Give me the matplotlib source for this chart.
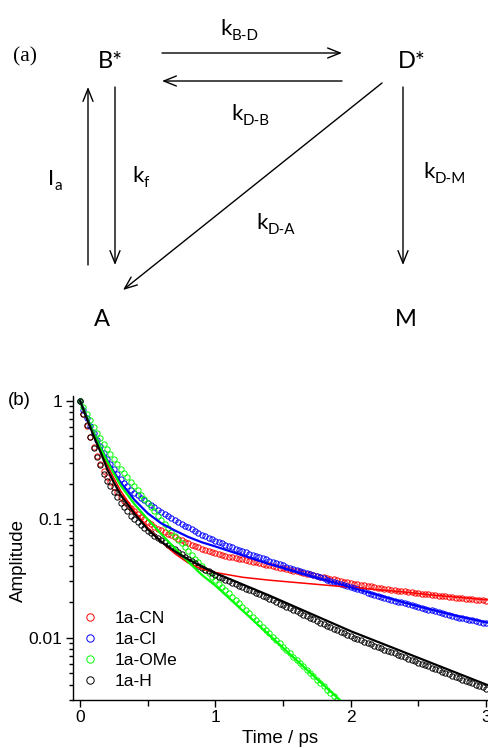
'''
kinetic scheme (a) and decay traces with fits (b)
'''
import numpy as np
import matplotlib
matplotlib.use('Agg')
import matplotlib.pyplot as plt
from matplotlib.ticker import MultipleLocator, FixedLocator, FixedFormatter, LogLocator, NullFormatter

# data ----------------------------------------------------
# sampling of the transients (ps)
time_step = 0.025
n_points = 121

# log10 of amplitude
log_amp_cn = [
    0, -0.11, -0.215, -0.31, -0.395, -0.47, -0.535, -0.592, -0.645, -0.69,
    -0.732, -0.772, -0.81, -0.843, -0.874, -0.903, -0.93, -0.955, -0.979, -1.002,
    -1.025, -1.044, -1.062, -1.079, -1.095, -1.109, -1.123, -1.137, -1.15, -1.164,
    -1.178, -1.191, -1.205, -1.216, -1.228, -1.239, -1.25, -1.259, -1.268, -1.276,
    -1.285, -1.293, -1.3, -1.308, -1.315, -1.321, -1.328, -1.334, -1.34, -1.346,
    -1.353, -1.359, -1.365, -1.371, -1.378, -1.384, -1.39, -1.396, -1.403, -1.409,
    -1.415, -1.421, -1.428, -1.434, -1.44, -1.446, -1.453, -1.459, -1.465, -1.471,
    -1.478, -1.484, -1.49, -1.496, -1.503, -1.509, -1.515, -1.521, -1.528, -1.534,
    -1.54, -1.545, -1.55, -1.554, -1.559, -1.564, -1.568, -1.573, -1.577, -1.581,
    -1.586, -1.59, -1.594, -1.598, -1.602, -1.606, -1.61, -1.614, -1.617, -1.621,
    -1.625, -1.628, -1.632, -1.635, -1.639, -1.642, -1.646, -1.649, -1.652, -1.655,
    -1.659, -1.662, -1.665, -1.668, -1.671, -1.674, -1.677, -1.68, -1.682, -1.685,
    -1.688,
]
log_amp_cl = [
    0, -0.075, -0.145, -0.21, -0.27, -0.33, -0.385, -0.44, -0.49, -0.535,
    -0.578, -0.62, -0.66, -0.692, -0.722, -0.75, -0.775, -0.797, -0.818, -0.839,
    -0.86, -0.88, -0.9, -0.92, -0.94, -0.956, -0.973, -0.989, -1.005, -1.021,
    -1.038, -1.054, -1.07, -1.085, -1.1, -1.115, -1.13, -1.143, -1.155, -1.168,
    -1.18, -1.191, -1.203, -1.214, -1.225, -1.236, -1.248, -1.259, -1.27, -1.28,
    -1.29, -1.3, -1.31, -1.32, -1.33, -1.34, -1.35, -1.36, -1.37, -1.38,
    -1.39, -1.4, -1.41, -1.42, -1.43, -1.439, -1.448, -1.456, -1.465, -1.474,
    -1.483, -1.491, -1.5, -1.51, -1.52, -1.53, -1.54, -1.549, -1.558, -1.566,
    -1.575, -1.584, -1.593, -1.601, -1.61, -1.619, -1.628, -1.636, -1.645, -1.654,
    -1.663, -1.671, -1.68, -1.688, -1.695, -1.703, -1.71, -1.718, -1.725, -1.733,
    -1.74, -1.748, -1.755, -1.763, -1.77, -1.778, -1.785, -1.793, -1.8, -1.808,
    -1.815, -1.823, -1.83, -1.836, -1.843, -1.849, -1.855, -1.861, -1.868, -1.874,
    -1.88,
]
log_amp_ome = [
    0, -0.057, -0.113, -0.167, -0.22, -0.269, -0.317, -0.364, -0.41, -0.452,
    -0.494, -0.535, -0.575, -0.612, -0.648, -0.684, -0.72, -0.756, -0.793, -0.829,
    -0.865, -0.9, -0.935, -0.97, -1.005, -1.039, -1.073, -1.106, -1.14, -1.173,
    -1.205, -1.238, -1.27, -1.301, -1.333, -1.364, -1.395, -1.425, -1.455, -1.485,
    -1.515, -1.543, -1.571, -1.599, -1.627, -1.655, -1.683, -1.711, -1.739, -1.767,
    -1.795, -1.823, -1.851, -1.879, -1.907, -1.935, -1.963, -1.991, -2.019, -2.047,
    -2.075, -2.103, -2.131, -2.159, -2.187, -2.215, -2.243, -2.271, -2.299, -2.327,
    -2.355, -2.383, -2.411, -2.439, -2.467, -2.495, -2.523,
]
log_amp_h = [
    0, -0.11, -0.205, -0.31, -0.4, -0.475, -0.545, -0.615, -0.675, -0.72,
    -0.77, -0.815, -0.86, -0.9, -0.935, -0.97, -1.0, -1.027, -1.052, -1.077,
    -1.1, -1.12, -1.138, -1.157, -1.175, -1.195, -1.215, -1.235, -1.255, -1.275,
    -1.295, -1.315, -1.335, -1.354, -1.372, -1.391, -1.41, -1.425, -1.44, -1.455,
    -1.47, -1.484, -1.498, -1.511, -1.525, -1.537, -1.55, -1.562, -1.575, -1.586,
    -1.598, -1.609, -1.62, -1.633, -1.646, -1.66, -1.673, -1.686, -1.699, -1.713,
    -1.726, -1.739, -1.752, -1.766, -1.779, -1.792, -1.805, -1.819, -1.832, -1.845,
    -1.858, -1.872, -1.885, -1.898, -1.911, -1.925, -1.938, -1.951, -1.964, -1.977,
    -1.99, -2.001, -2.012, -2.023, -2.034, -2.045, -2.056, -2.067, -2.078, -2.089,
    -2.1, -2.111, -2.122, -2.133, -2.144, -2.155, -2.166, -2.177, -2.188, -2.199,
    -2.21, -2.221, -2.232, -2.243, -2.254, -2.265, -2.276, -2.287, -2.298, -2.309,
    -2.32, -2.331, -2.342, -2.353, -2.364, -2.375, -2.386, -2.397, -2.408, -2.419,
    -2.43,
]

# fitted curves (log10 amplitude)
fit_time = [0, 0.05, 0.1, 0.15, 0.2, 0.25, 0.3, 0.4, 0.5, 0.6, 0.7, 0.8, 0.9,
            1.0, 1.2, 1.4, 1.6, 1.8, 2.0, 2.2, 2.4, 2.6, 2.8, 3.0, 3.05]
fit_cn = [0, -0.15, -0.29, -0.42, -0.54, -0.655, -0.76, -0.93, -1.07, -1.19, -1.29,
          -1.37, -1.42, -1.45, -1.49, -1.515, -1.535, -1.555, -1.575, -1.595,
          -1.615, -1.64, -1.66, -1.68, -1.685]
fit_cl = [0, -0.14, -0.27, -0.39, -0.5, -0.6, -0.69, -0.835, -0.95, -1.035, -1.095,
          -1.15, -1.195, -1.23, -1.305, -1.38, -1.445, -1.51, -1.575, -1.64,
          -1.705, -1.765, -1.82, -1.87, -1.882]
fit_ome = [0, -0.14, -0.275, -0.395, -0.51, -0.615, -0.715, -0.87, -1.0, -1.125,
           -1.245, -1.36, -1.47, -1.56, -1.77, -1.98, -2.19, -2.4, -2.61]
fit_h = [0, -0.15, -0.295, -0.43, -0.575, -0.69, -0.795, -0.95, -1.085, -1.19,
         -1.27, -1.34, -1.4, -1.455, -1.55, -1.645, -1.745, -1.845, -1.945,
         -2.035, -2.125, -2.215, -2.305, -2.395, -2.415]

labels = ['1a-CN', '1a-Cl', '1a-OMe', '1a-H']
colors = ['#ff0000', '#0000ff', '#00ff00', '#000000']

# figure --------------------------------------------------
fig = plt.figure(figsize=(4.88, 7.48), dpi=100)
renderer = fig.canvas.get_renderer()

# (a) scheme, drawn in pixel units
scheme_font = 'Lato'
ax_s = fig.add_axes([0, 0, 1, 1])
ax_s.set_xlim(0, 488)
ax_s.set_ylim(748, 0)
ax_s.axis('off')

fig.text(13 / 488, 1 - 57 / 748, '(a)', family='Liberation Serif', fontsize=15.5,
         ha='left', va='center')

for x, y, s in [(110, 68, 'B*'), (412, 68, 'D*'), (102, 325.5, 'A'), (406, 325.5, 'M')]:
    ax_s.text(x, y, s, family=scheme_font, fontsize=17, ha='center', va='baseline')

arrows = [((162, 53), (342, 53)),
          ((342, 81), (162, 81)),
          ((88, 265), (88, 87)),
          ((115, 87), (115, 265)),
          ((403, 87), (403, 265)),
          ((382, 83), (123, 290))]
for tail, head in arrows:
    ax_s.annotate('', xy=head, xytext=tail,
                  arrowprops=dict(arrowstyle='->,head_length=0.9,head_width=0.36',
                                  lw=1.0, color='k', shrinkA=0, shrinkB=0,
                                  mutation_scale=10))


def rate_label(x, y, main, sub, size=16):
    t = ax_s.text(x, y, main, family=scheme_font, fontsize=size, ha='left', va='baseline')
    w = t.get_window_extent(renderer).width
    ax_s.text(x + w + 0.5, y + 4.5, sub, family=scheme_font, fontsize=size * 0.68,
              ha='left', va='baseline')


rate_label(220, 35, 'k', 'B-D')
rate_label(231, 120, 'k', 'D-B')
rate_label(48, 185, 'I', 'a')
rate_label(132, 182, 'k', 'f')
rate_label(423, 178, 'k', 'D-M')
rate_label(256, 229, 'k', 'D-A')

# (b) transients
plot_font = 'Liberation Sans'
ax = fig.add_axes([73 / 488, 48 / 748, 415 / 488, 304.3 / 748])
time_ps = np.arange(n_points) * time_step

handles = []
for vals, c, lab in zip([log_amp_cn, log_amp_cl, log_amp_ome, log_amp_h], colors, labels):
    h, = ax.plot(time_ps[:len(vals)], 10 ** np.array(vals), 'o', ms=3.8, mfc='none',
                 mec=c, mew=0.7, label=lab, zorder=2)
    handles.append(h)

for fit, c in zip([fit_cn, fit_cl, fit_ome, fit_h], colors):
    lw = 1.1 if c == '#ff0000' else 1.6
    ax.plot(fit_time[:len(fit)], 10 ** np.array(fit), '-', color=c, lw=lw, zorder=3)

ax.set_yscale('log')
ax.set_xlim(-0.052, 3.015)
ax.set_ylim(10 ** -2.526, 10 ** 0.042)

ax.spines['top'].set_visible(False)
ax.spines['right'].set_visible(False)
for sp in ['left', 'bottom']:
    ax.spines[sp].set_linewidth(1.0)

ax.xaxis.set_major_locator(MultipleLocator(1))
ax.xaxis.set_minor_locator(MultipleLocator(0.5))
ax.yaxis.set_major_locator(FixedLocator([0.01, 0.1, 1]))
ax.yaxis.set_major_formatter(FixedFormatter(['0.01', '0.1', '1']))
ax.yaxis.set_minor_locator(LogLocator(base=10, subs=np.arange(2, 10)))
ax.yaxis.set_minor_formatter(NullFormatter())
ax.tick_params(which='major', direction='out', length=5, width=1.0, labelsize=12.5, pad=2.5)
ax.tick_params(which='minor', direction='out', length=3, width=1.0)
ax.tick_params(axis='x', which='minor', length=4.5)
for tick in ax.get_xticklabels() + ax.get_yticklabels():
    tick.set_fontfamily(plot_font)

ax.set_xlabel('Time / ps', family=plot_font, fontsize=13.5)
ax.xaxis.set_label_coords(0.499, -0.1)
ax.set_ylabel('Amplitude', family=plot_font, fontsize=13.5)
ax.yaxis.set_label_coords(-0.112, 0.458)

ax.legend(handles, labels, loc='upper left', bbox_to_anchor=(0.02, 0.292),
          frameon=False, prop={'family': plot_font, 'size': 12.5},
          handlelength=1.0, handletextpad=0.94, labelspacing=0.33,
          borderpad=0, borderaxespad=0, markerscale=1.4)

fig.text(8 / 488, 1 - 400.7 / 748, '(b)', family=plot_font, fontsize=13.5,
         ha='left', va='center')

plt.savefig('out.png', dpi=100)
